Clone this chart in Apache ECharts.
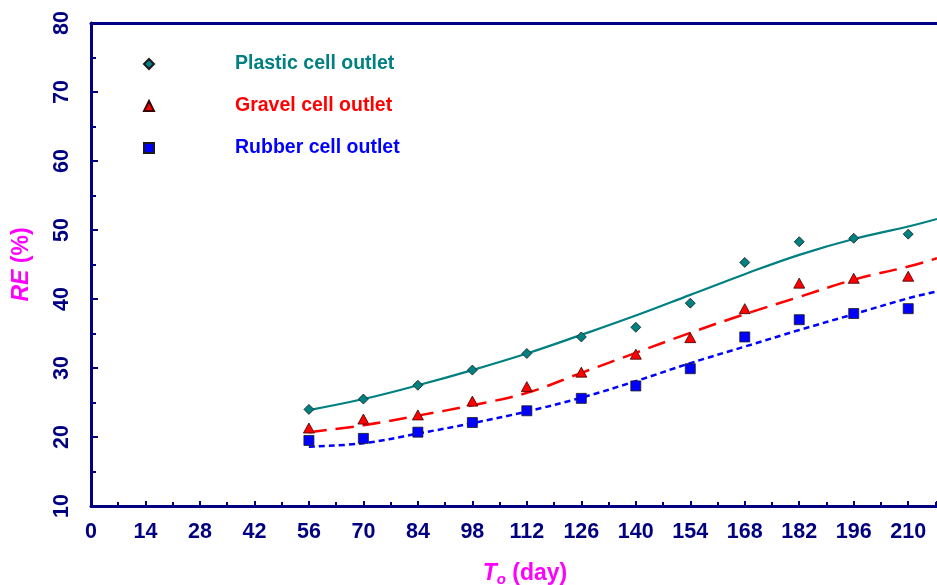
<!DOCTYPE html>
<html>
<head>
<meta charset="utf-8">
<script src="https://cdn.jsdelivr.net/npm/echarts@6/dist/echarts.min.js"></script>
<style>
html,body{margin:0;padding:0;background:#fff;}
#chart{width:937px;height:585px;}
</style>
</head>
<body>
<div id="chart"></div>
<script>
// Measured outlet data (T_o in days, RE in %)
const days = [56, 70, 84, 98, 112, 126, 140, 154, 168, 182, 196, 210];
const plasticRE = [24.0, 25.5, 27.5, 29.7, 32.1, 34.5, 35.9, 39.4, 45.3, 48.3, 48.8, 49.4];
const gravelRE  = [21.3, 22.6, 23.2, 25.2, 27.3, 29.4, 32.0, 34.4, 38.6, 42.3, 43.0, 43.3];
const rubberRE  = [19.5, 19.8, 20.7, 22.1, 23.8, 25.6, 27.4, 29.9, 34.5, 37.0, 37.9, 38.6];

// Fitted curves
const fitDays    = [56, 70, 84, 98, 112, 126, 140, 154, 168, 182, 196, 210, 217.4];
const plasticFit = [23.9, 25.5, 27.5, 29.7, 32.1, 34.8, 37.6, 40.6, 43.6, 46.4, 48.7, 50.5, 51.6];
const gravelFit  = [20.7, 21.7, 23.1, 24.6, 26.4, 29.3, 32.2, 35.1, 37.8, 40.3, 42.8, 44.7, 45.9];
const rubberFit  = [18.6, 19.1, 20.5, 22.0, 23.7, 25.7, 28.1, 30.7, 33.1, 35.5, 37.8, 40.1, 41.1];

const seriesNames = ['Plastic cell outlet', 'Gravel cell outlet', 'Rubber cell outlet'];
const colors = ['#008080', '#FF0000', '#0000FF'];

const xTickLabels = [0, 14, 28, 42, 56, 70, 84, 98, 112, 126, 140, 154, 168, 182, 196, 210];
const yTickLabels = [10, 20, 30, 40, 50, 60, 70, 80];

const pair = (xs, ys) => xs.map((x, i) => [x, ys[i]]);

const navy = '#000080';
const font = 'Liberation Sans, Arial, sans-serif';

const chart = echarts.init(document.getElementById('chart'), null, {renderer: 'canvas'});

function legendFor(i, icon, top) {
  return {
    data: [{name: seriesNames[i], icon: icon, textStyle: {color: colors[i]}}],
    left: 138, top: top,
    itemWidth: 10, itemHeight: 10,
    selectedMode: false,
    textStyle: {fontFamily: font, fontWeight: 'bold', fontSize: 19.5, padding: [0, 0, 0, 76]}
  };
}

chart.setOption({
  animation: false,
  backgroundColor: '#fff',
  grid: {left: 91, top: 23, right: 0, bottom: 79, containLabel: false, outerBoundsMode: 'none'},
  legend: [legendFor(0, 'diamond', 49), legendFor(1, 'triangle', 91), legendFor(2, 'rect', 133)],
  xAxis: [{
    type: 'value', min: 0, max: 217.4, interval: 14,
    name: '{i|T}{s|o}{n| (day)}', nameLocation: 'middle', nameGap: 54,
    nameTextStyle: {
      padding: [0, 0, 0, 22],
      rich: {
        i: {fontFamily: font, fontWeight: 'bold', fontStyle: 'italic', fontSize: 23, color: '#FF00FF'},
        s: {fontFamily: font, fontWeight: 'bold', fontStyle: 'italic', fontSize: 15, color: '#FF00FF', padding: [12, 0, 0, 0]},
        n: {fontFamily: font, fontWeight: 'bold', fontSize: 23, color: '#FF00FF'}
      }
    },
    axisLine: {show: true, onZero: false, lineStyle: {color: navy, width: 3}},
    axisTick: {show: true, inside: true, length: 5, lineStyle: {color: navy, width: 2}},
    minorTick: {show: true, splitNumber: 2, length: 4, lineStyle: {color: navy, width: 2}},
    splitLine: {show: false},
    axisLabel: {
      showMaxLabel: false, margin: 15,
      color: navy, fontFamily: font, fontWeight: 'bold', fontSize: 21.5,
      formatter: v => (xTickLabels.indexOf(v) >= 0 ? String(v) : '')
    }
  }, {
    type: 'value', position: 'top', min: 0, max: 217.4,
    axisLine: {show: true, lineStyle: {color: navy, width: 3}},
    axisTick: {show: false}, axisLabel: {show: false}, splitLine: {show: false}
  }],
  yAxis: {
    type: 'value', min: 10, max: 80, interval: 10,
    name: '{i|RE}{n| (%)}', nameLocation: 'middle', nameGap: 58, nameRotate: 90,
    nameTextStyle: {
      rich: {
        i: {fontFamily: font, fontWeight: 'bold', fontStyle: 'italic', fontSize: 23, color: '#FF00FF'},
        n: {fontFamily: font, fontWeight: 'bold', fontSize: 23, color: '#FF00FF'}
      }
    },
    axisLine: {show: true, lineStyle: {color: navy, width: 3}},
    axisTick: {show: true, inside: true, length: 7, lineStyle: {color: navy, width: 2}},
    minorTick: {show: true, splitNumber: 2, length: 5, lineStyle: {color: navy, width: 2}},
    splitLine: {show: false},
    axisLabel: {
      rotate: 90, margin: 18,
      color: navy, fontFamily: font, fontWeight: 'bold', fontSize: 21.5,
      formatter: v => (yTickLabels.indexOf(v) >= 0 ? String(v) : '')
    }
  },
  series: [
    {name: 'Plastic fit', type: 'line', smooth: 0.4, symbol: 'none', data: pair(fitDays, plasticFit),
     lineStyle: {color: colors[0], width: 2.2, type: 'solid'}, z: 2},
    {name: 'Gravel fit', type: 'line', smooth: 0.4, symbol: 'none', data: pair(fitDays, gravelFit),
     lineStyle: {color: colors[1], width: 2.5, type: [18, 9]}, z: 2},
    {name: 'Rubber fit', type: 'line', smooth: 0.4, symbol: 'none', data: pair(fitDays, rubberFit),
     lineStyle: {color: colors[2], width: 2.5, type: [6, 4]}, z: 2},
    {name: seriesNames[0], type: 'scatter', symbol: 'diamond', symbolSize: [10, 10], data: pair(days, plasticRE),
     itemStyle: {color: colors[0], borderColor: '#1a1a1a', borderWidth: 0.8, opacity: 1}, z: 3},
    {name: seriesNames[1], type: 'scatter', symbol: 'triangle', symbolSize: [11, 10], data: pair(days, gravelRE),
     itemStyle: {color: colors[1], borderColor: '#3a0000', borderWidth: 0.8, opacity: 1}, z: 3},
    {name: seriesNames[2], type: 'scatter', symbol: 'rect', symbolSize: [10, 10], data: pair(days, rubberRE),
     itemStyle: {color: colors[2], borderColor: '#1a1a1a', borderWidth: 0.8, opacity: 1}, z: 3}
  ]
});
</script>
</body>
</html>
